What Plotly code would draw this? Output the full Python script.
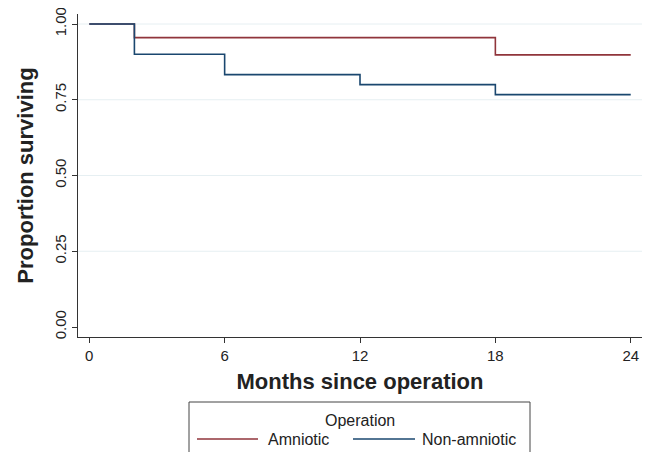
import plotly.graph_objects as go

months_amniotic = [0, 2, 18, 24]
surv_amniotic = [1.0, 0.955, 0.898, 0.898]
months_non = [0, 2, 6, 12, 18, 24]
surv_non = [1.0, 0.9, 0.833, 0.8, 0.767, 0.767]
y_ticks = [0, 0.25, 0.5, 0.75, 1.0]
y_ticklabels = ["0.00", "0.25", "0.50", "0.75", "1.00"]
y_grid = [0.25, 0.5, 0.75, 1.0]
x_ticks = [0, 6, 12, 18, 24]
series_names = ["Amniotic", "Non-amniotic"]
legend_title = "Operation"

RED = "#90353b"
NAVY = "#1a476f"
GRID = "#e6eff2"
FONT = "Liberation Sans, Arial, sans-serif"
TXT = "#222222"

fig = go.Figure()
fig.add_trace(go.Scatter(x=months_amniotic, y=surv_amniotic, mode="lines",
                         line=dict(color=RED, width=1.6, shape="hv"), name=series_names[0]))
fig.add_trace(go.Scatter(x=months_non, y=surv_non, mode="lines",
                         line=dict(color=NAVY, width=1.6, shape="hv"), name=series_names[1]))

# plot area in screen pixels: x 78..642, y 14..337 (page body adds an 8px offset)
def px(xp):
    return (xp - 78) / 564.0

def py(yp):
    return (337 - yp) / 323.0

shapes = [
    dict(type="line", xref="paper", yref="y", x0=0, x1=1, y0=g, y1=g,
         line=dict(color=GRID, width=1), layer="below")
    for g in y_grid
]
shapes += [
    dict(type="rect", xref="paper", yref="paper", x0=px(189), x1=px(530), y0=py(402), y1=py(470),
         line=dict(color="#444", width=1), fillcolor="white", layer="above"),
    dict(type="line", xref="paper", yref="paper", x0=px(197), x1=px(258), y0=py(439), y1=py(439),
         line=dict(color=RED, width=1.6)),
    dict(type="line", xref="paper", yref="paper", x0=px(353), x1=px(415), y0=py(439), y1=py(439),
         line=dict(color=NAVY, width=1.6)),
]
annotations = [
    dict(text=legend_title, xref="paper", yref="paper", x=0.5, y=py(420), xanchor="center",
         yanchor="middle", showarrow=False, font=dict(size=16, color=TXT)),
    dict(text=series_names[0], xref="paper", yref="paper", x=px(266), y=py(439), xanchor="left",
         yanchor="middle", showarrow=False, font=dict(size=16, color=TXT)),
    dict(text=series_names[1], xref="paper", yref="paper", x=px(420), y=py(439), xanchor="left",
         yanchor="middle", showarrow=False, font=dict(size=16, color=TXT)),
]

fig.update_layout(
    width=652, height=452,
    margin=dict(l=70, r=18, t=6, b=123, autoexpand=False),
    paper_bgcolor="white", plot_bgcolor="white",
    font=dict(family=FONT, color=TXT, size=15),
    showlegend=False,
    shapes=shapes, annotations=annotations,
)
fig.update_xaxes(range=[-0.5, 24.5], tickvals=x_ticks, ticks="outside", ticklen=5,
                 tickcolor="#333", showline=True, linecolor="#333", linewidth=1,
                 showgrid=False, zeroline=False, automargin=False, ticklabeloverflow="allow",
                 tickfont=dict(size=15, color=TXT),
                 title=dict(text="<b>Months since operation</b>", font=dict(size=22, color=TXT), standoff=10))
fig.update_yaxes(range=[-0.033, 1.033], tickvals=y_ticks, ticktext=y_ticklabels,
                 ticks="outside", ticklen=5, tickangle=-90,
                 tickcolor="#333", showline=True, linecolor="#333", linewidth=1,
                 showgrid=False, zeroline=False, automargin=False,
                 ticklabeloverflow="allow",
                 tickfont=dict(size=15, color=TXT),
                 title=dict(text="<b>Proportion surviving</b>", font=dict(size=22, color=TXT), standoff=12))

fig.write_html("out.html")
